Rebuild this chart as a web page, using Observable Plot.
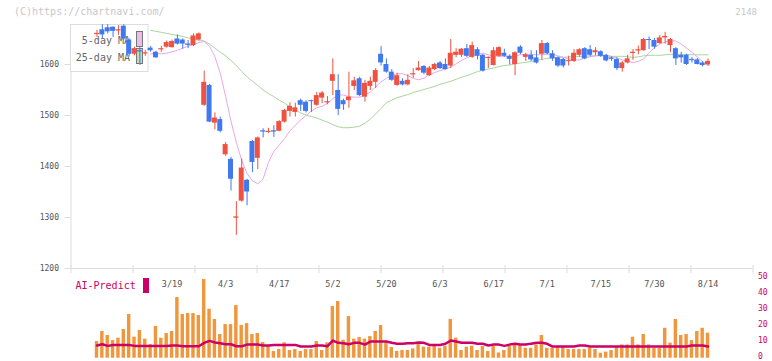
<!DOCTYPE html>
<html><head><meta charset="utf-8">
<script src="https://cdn.jsdelivr.net/npm/d3@7"></script>
<script src="https://cdn.jsdelivr.net/npm/@observablehq/plot@0.6"></script>
<style>
html,body{margin:0;padding:0;background:#fff;}
#wrap{position:relative;width:772px;height:361px;overflow:hidden;font-family:"DejaVu Sans Mono",monospace;background:#fff;}
#wrap svg{position:absolute;left:0;background:transparent;}
.txt{position:absolute;white-space:nowrap;line-height:12px;}
</style></head><body><div id="wrap"></div>
<script>
// ---- data ----
const openP = [1660,1668,1672,1673,1667,1675,1648,1620,1627,1622,
1632,1624,1630,1634,1633,1650,1648,1640,1637,1648,
1520,1559,1485,1492,1423,1414,1300,1332,1373,1449,
1416,1470,1468,1470,1469,1487,1508,1506,1529,1526,
1529,1520,1534,1526,1567,1549,1529,1529,1557,1572,
1536,1557,1565,1620,1600,1585,1559,1567,1560,1581,
1588,1596,1578,1590,1603,1600,1597,1618,1618,1631,
1614,1629,1618,1613,1598,1616,1622,1616,1600,1634,
1614,1618,1613,1620,1641,1621,1613,1610,1607,1606,
1618,1631,1629,1623,1625,1618,1613,1610,1592,1603,
1623,1628,1627,1649,1647,1641,1652,1637,1631,1618,
1618,1610,1609,1603,1599];
const highP = [1667,1678,1678,1674,1676,1678,1650,1634,1633,1628,
1635,1626,1636,1646,1648,1658,1650,1647,1660,1662,
1587,1561,1505,1497,1447,1418,1331,1415,1375,1451,
1458,1474,1475,1480,1490,1512,1525,1524,1532,1529,
1530,1545,1547,1537,1611,1580,1532,1585,1575,1575,
1569,1575,1592,1635,1611,1590,1583,1572,1580,1592,
1606,1598,1596,1602,1606,1611,1649,1631,1631,1639,
1644,1633,1620,1615,1633,1635,1630,1619,1625,1637,
1622,1627,1627,1647,1643,1627,1615,1612,1616,1629,
1631,1633,1637,1633,1627,1620,1615,1613,1606,1618,
1629,1636,1651,1654,1651,1657,1663,1651,1633,1624,
1620,1614,1612,1606,1611];
const lowP = [1653,1649,1660,1653,1657,1648,1615,1617,1598,1616,
1624,1612,1624,1632,1632,1638,1630,1631,1635,1646,
1518,1486,1472,1466,1420,1352,1265,1330,1323,1388,
1394,1456,1465,1457,1468,1485,1497,1497,1508,1505,
1506,1518,1523,1521,1539,1500,1510,1514,1549,1537,
1526,1549,1553,1597,1583,1567,1557,1558,1558,1573,
1587,1580,1577,1588,1590,1589,1592,1613,1614,1614,
1612,1609,1585,1592,1597,1614,1614,1599,1578,1619,
1606,1606,1601,1608,1619,1606,1594,1593,1597,1604,
1614,1609,1615,1617,1614,1605,1606,1588,1585,1601,
1608,1619,1626,1629,1630,1640,1640,1623,1598,1603,
1598,1603,1599,1595,1596];
const closeP = [1661,1658,1664,1665,1668,1650,1620,1631,1626,1623,
1627,1613,1631,1643,1645,1640,1640,1639,1656,1660,
1565,1487,1495,1469,1443,1375,1301,1397,1350,1408,
1456,1469,1469,1469,1488,1510,1518,1515,1520,1508,
1527,1539,1544,1527,1580,1512,1521,1536,1568,1539,
1563,1567,1588,1603,1585,1569,1578,1560,1569,1582,
1593,1583,1593,1600,1592,1590,1622,1624,1630,1616,
1637,1616,1587,1614,1627,1633,1616,1610,1623,1622,
1619,1609,1603,1641,1621,1611,1597,1597,1608,1622,
1629,1611,1618,1627,1616,1607,1610,1592,1603,1611,
1624,1629,1649,1647,1634,1652,1655,1649,1611,1613,
1600,1609,1600,1598,1606];
// moving averages (first value at candle 10)
const MA_START = 10;
const ma25 = [1667,1665,1663,1661,1659,1657,1655,1652,1650,1648,
1646,1640,1632,1624,1617,1608,1598,1586,1576,1567,
1559,1550,1543,1537,1530,1524,1517,1511,1505,1501,
1498,1495,1491,1487,1482,1478,1476,1476,1477,1479,
1485,1493,1503,1514,1525,1530,1535,1538,1541,1545,
1548,1551,1554,1557,1561,1564,1567,1571,1575,1578,
1582,1586,1589,1591,1593,1596,1598,1599,1601,1603,
1604,1606,1608,1610,1612,1613,1614,1614,1615,1615,
1616,1616,1617,1617,1617,1617,1616,1616,1616,1615,
1614,1615,1617,1618,1618,1618,1619,1620,1620,1620,
1620,1619,1619,1619,1619];
const ma5 = [1621,1621,1621,1622,1625,1628,1632,1636,1639,1643,
1645,1636,1615,1583,1537,1489,1447,1412,1386,1372,
1366,1376,1408,1430,1442,1455,1470,1481,1491,1500,
1509,1515,1518,1524,1533,1541,1540,1537,1536,1536,
1540,1546,1556,1566,1573,1579,1582,1582,1578,1573,
1570,1573,1580,1584,1588,1591,1595,1601,1608,1613,
1617,1621,1622,1619,1617,1616,1616,1616,1617,1619,
1620,1620,1619,1619,1620,1620,1617,1614,1611,1609,
1609,1613,1615,1617,1618,1617,1616,1613,1609,1606,
1604,1606,1611,1623,1633,1640,1644,1647,1646,1640,
1632,1624,1615,1605];
const volume = [10.4,16.7,14.2,11,12.5,17.9,27.3,13.1,17.3,11.9,
8.5,19.8,12.5,15.4,16.7,37.9,27.3,27.9,27.9,26.7,
49.2,30.6,24.2,14.8,21,21,32.9,20.4,21.6,14.8,
15.4,9.8,7.5,4.2,5.4,9.6,4.8,5.4,4.2,5.4,
5.4,10.4,4.8,9.6,32.3,35.4,11.2,26,11.9,12.9,
11.9,13.5,16.7,20.4,9.6,6.6,4.2,4.8,4.8,5.8,
10,6.9,6.9,7.7,6.2,7.5,24.2,12.5,4.8,6.9,
7.5,4.8,7.3,4.2,7.3,3.3,4.8,7.3,8.3,7.9,
6.2,6.2,8.3,14.2,6.2,6.2,6.9,6.9,5.4,5.4,
5.4,5.4,6.2,5.4,3.1,3.8,4.8,6.9,8.3,8.3,
13.1,8.3,14.8,8.3,6.2,6.2,18.7,9.4,24.2,14.2,
14.8,11,16.7,18.7,15.6];
const aiPredict = [7.9,8.7,7.7,8.3,8.3,8.3,8.3,7.7,7.7,7.7,
7.7,7.7,7.7,7.7,7.9,7.9,7.5,7.5,7.5,7.5,
9.6,10.8,9.8,9.4,8.7,8.7,7.5,7.5,8.5,8.5,
8.5,7.9,7.9,8.3,8.3,8.3,8.3,8.3,7.3,7.3,
7.3,7.9,7.9,7.5,11.0,9.6,9.4,8.7,9.6,9.6,
8.5,10.4,10.4,10.4,10.4,9.6,9.1,9.1,9.4,9.4,
9.8,9.6,8.3,8.3,8.3,9.0,11.0,10.4,9.6,9.6,
9.6,9.0,9.0,7.9,8.5,8.5,7.7,8.5,9.0,8.5,
8.5,9.1,9.6,9.6,9.0,7.3,7.3,7.3,7.3,7.3,
7.9,7.9,7.3,7.3,7.3,7.3,7.3,7.3,7.3,7.3,
7.3,7.3,7.3,7.3,7.3,7.3,7.3,7.3,7.3,7.3,
7.3,7.9,7.9,7.9,7.3];
const dateLabels = ["3/19","4/3","4/17","5/2","5/20","6/3","6/17","7/1","7/15","7/30","8/14"];
const dateIdx = [14,24,34,44,54,64,74,84,94,104,114];
const priceTicks = [1200,1300,1400,1500,1600];
const aiTicks = [0,10,20,30,40,50];

// ---- build ----
const RED = "#f05241", BLUE = "#4078f0";
const X_DOMAIN = [-4.85, 122.39];
const Y_DOMAIN = [1200, 1678.4];
const candles = openP.map((o, i) => ({i, o, h: highP[i], l: lowP[i], c: closeP[i], col: closeP[i] >= o ? RED : BLUE}));
const dojis = candles.filter(d => Math.abs(d.c - d.o) < 2);
const ma25Data = ma25.map((v, k) => ({i: k + MA_START, v}));
const ma5Data = ma5.map((v, k) => ({i: k + MA_START, v}));
const volData = volume.map((v, i) => ({i, v}));
const aiData = aiPredict.map((v, i) => ({i, v}));
const labelMap = new Map(dateIdx.map((d, k) => [d, dateLabels[k]]));
const gridIdx = d3.range(12).map(k => X_DOMAIN[0] + k * (X_DOMAIN[1] - X_DOMAIN[0]) / 11);
const pxPerUnit = 244 / (Y_DOMAIN[1] - Y_DOMAIN[0]);

function legendMark() {
  const g = d3.create("svg:g").attr("font-family", "DejaVu Sans Mono").attr("font-size", 10);
  g.append("rect").attr("x", 70.5).attr("y", 24.5).attr("width", 77.5).attr("height", 47)
    .attr("fill", "#fff").attr("stroke", "#ddd");
  g.append("text").attr("x", 130).attr("y", 43.5).attr("text-anchor", "end").attr("fill", "#666").text("5-day MA");
  g.append("text").attr("x", 130).attr("y", 61).attr("text-anchor", "end").attr("fill", "#666").text("25-day MA");
  g.append("rect").attr("x", 136.5).attr("y", 31.5).attr("width", 6).attr("height", 15)
    .attr("fill", "#ecbcec").attr("stroke", "#777");
  g.append("rect").attr("x", 136.5).attr("y", 48.5).attr("width", 6).attr("height", 15)
    .attr("fill", "#bcdcb2").attr("stroke", "#777");
  return g.node();
}

const topPlot = Plot.plot({
  width: 772, height: 275,
  marginLeft: 70.5, marginRight: 19.5, marginTop: 24, marginBottom: 7,
  style: {background: "transparent", fontFamily: "DejaVu Sans Mono", overflow: "visible"},
  x: {domain: X_DOMAIN, axis: null, label: null},
  y: {domain: Y_DOMAIN, axis: null, label: null},
  color: {type: "identity"},
  marks: [
    Plot.axisY({ticks: priceTicks, tickSize: 6, tickPadding: 6, fontSize: 8, stroke: "#ddd", fill: "#555", tickFormat: d => String(d), label: null}),
    Plot.ruleX([X_DOMAIN[0]], {stroke: "#ddd"}),
    Plot.ruleY([Y_DOMAIN[0]], {stroke: "#ddd"}),
    Plot.ruleX(gridIdx, {y1: Y_DOMAIN[0] - 5 / pxPerUnit, y2: Y_DOMAIN[0] + 3 / pxPerUnit, stroke: "#ddd"}),
    Plot.line(ma25Data, {x: "i", y: "v", stroke: "#a8d69c", strokeWidth: 1}),
    Plot.line(ma5Data, {x: "i", y: "v", stroke: "#e8a8e8", strokeWidth: 1}),
    legendMark,
    Plot.ruleX(candles, {x: "i", y1: "l", y2: "h", stroke: "col", strokeWidth: 1}),
    Plot.rect(candles, {x1: d => d.i - 0.465, x2: d => d.i + 0.465, y1: "o", y2: "c", fill: "col"}),
    Plot.ruleY(dojis, {x1: d => d.i - 0.465, x2: d => d.i + 0.465, y: d => (d.o + d.c) / 2, stroke: "col", strokeWidth: 1})
  ]
});
topPlot.style.top = "0px";

const bottomPlot = Plot.plot({
  width: 772, height: 91,
  marginLeft: 70.5, marginRight: 19.5, marginTop: 7.7, marginBottom: 3.3,
  style: {background: "transparent", fontFamily: "DejaVu Sans Mono", overflow: "visible"},
  x: {domain: X_DOMAIN, axis: null, label: null},
  y: {domain: [0, 50], axis: null, label: null},
  marks: [
    Plot.axisY({anchor: "right", ticks: aiTicks, tickSize: 0, tickPadding: 5, fontSize: 8, dy: -1.5, fill: "#cc0066", tickFormat: d => String(d), label: null}),
    Plot.axisX({anchor: "top", ticks: dateIdx, tickFormat: d => labelMap.get(d), tickSize: 0, tickPadding: 0, dy: 9, fontSize: 8.5, fill: "#555", label: null}),
    Plot.rect(volData, {x1: d => d.i - 0.32, x2: d => d.i + 0.32, y1: 0, y2: "v", fill: "#f0963c"}),
    Plot.line(aiData, {x: "i", y: "v", stroke: "#cc0066", strokeWidth: 2.5})
  ]
});
bottomPlot.style.top = "270px";

const wrap = document.getElementById("wrap");
wrap.appendChild(topPlot);
wrap.appendChild(bottomPlot);

function addText(txt, css) {
  const d = document.createElement("div");
  d.className = "txt";
  d.textContent = txt;
  Object.assign(d.style, css);
  wrap.appendChild(d);
  return d;
}
addText("(C)https://chartnavi.com/", {left: "14px", top: "6px", fontSize: "10px", color: "#c8c8c8"});
addText("2148", {right: "15px", top: "6px", fontSize: "9px", color: "#c8c8c8"});
addText("AI-Predict", {left: "75.5px", top: "280px", fontSize: "10px", color: "#cc0066"});
const sw = document.createElement("div");
Object.assign(sw.style, {position: "absolute", left: "142.5px", top: "277.5px", width: "6px", height: "15px", background: "#cc0066"});
wrap.appendChild(sw);
</script></body></html>
